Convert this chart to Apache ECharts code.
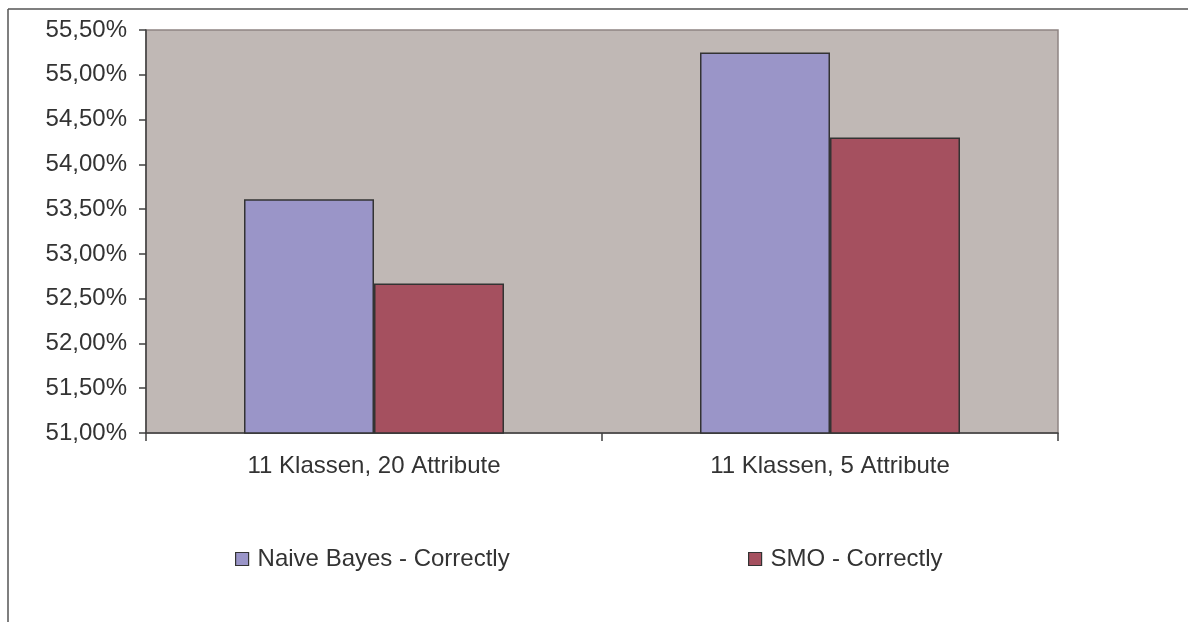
<!DOCTYPE html>
<html>
<head>
<meta charset="utf-8">
<script src="https://cdn.jsdelivr.net/npm/echarts@6/dist/echarts.min.js"></script>
<style>
  html, body { margin: 0; padding: 0; background: #ffffff; }
  #chart { width: 1188px; height: 622px; }
</style>
</head>
<body>
<div id="chart"></div>
<script>
// Classification accuracy (correctly classified instances, %)
const categories = ['11 Klassen, 20 Attribute', '11 Klassen, 5 Attribute'];
const naiveBayes = [53.61, 55.25];
const smo = [52.67, 54.30];
const seriesNames = ['Naive Bayes - Correctly', 'SMO - Correctly'];

const FONT = 'Liberation Sans, Arial, sans-serif';
const TEXT = '#333333';
const FS = 24;

const chart = echarts.init(document.getElementById('chart'));

chart.setOption({
  animation: false,
  backgroundColor: '#ffffff',
  textStyle: { fontFamily: FONT },
  graphic: [
    // outer frame: left and top edges
    { type: 'line', shape: { x1: 8, y1: 9, x2: 8, y2: 622 },
      style: { stroke: '#555555', lineWidth: 1.5 } },
    { type: 'line', shape: { x1: 8, y1: 9, x2: 1188, y2: 9 },
      style: { stroke: '#555555', lineWidth: 1.5 } }
  ],
  grid: {
    left: 146, top: 30, right: 130, bottom: 189,
    show: true,
    backgroundColor: '#c0b8b5',
    borderColor: '#8e8482',
    borderWidth: 1.5
  },
  legend: [
    {
      data: [seriesNames[0]],
      left: 235, top: 547,
      padding: 0,
      itemWidth: 13, itemHeight: 13,
      icon: 'rect',
      itemStyle: { borderColor: '#333333', borderWidth: 1.2 },
      textStyle: { fontSize: FS, color: TEXT, fontFamily: FONT, padding: [0, 0, 0, 4] }
    },
    {
      data: [seriesNames[1]],
      left: 748, top: 547,
      padding: 0,
      itemWidth: 13, itemHeight: 13,
      icon: 'rect',
      itemStyle: { borderColor: '#333333', borderWidth: 1.2 },
      textStyle: { fontSize: FS, color: TEXT, fontFamily: FONT, padding: [0, 0, 0, 4] }
    }
  ],
  xAxis: {
    type: 'category',
    data: categories,
    axisLine: { show: true, lineStyle: { color: '#404040', width: 1.5 } },
    axisTick: { show: true, length: 8, alignWithLabel: false, lineStyle: { color: '#404040', width: 1.5 } },
    axisLabel: { fontSize: FS, color: TEXT, margin: 21, fontFamily: FONT },
    splitLine: { show: false }
  },
  yAxis: {
    type: 'value',
    min: 51, max: 55.5, interval: 0.5,
    axisLine: { show: true, lineStyle: { color: '#404040', width: 1.5 } },
    axisTick: { show: true, length: 7, inside: false, lineStyle: { color: '#404040', width: 1.5 } },
    axisLabel: {
      fontSize: FS, color: TEXT, margin: 19, fontFamily: FONT,
      formatter: v => v.toFixed(2).replace('.', ',') + '%'
    },
    splitLine: { show: false }
  },
  series: [
    {
      name: seriesNames[0],
      type: 'bar',
      data: naiveBayes,
      barWidth: 130,
      barGap: '0%',
      itemStyle: { color: '#9a95c8', borderColor: '#333333', borderWidth: 1.5 }
    },
    {
      name: seriesNames[1],
      type: 'bar',
      data: smo,
      barWidth: 130,
      barGap: '0%',
      itemStyle: { color: '#a5505f', borderColor: '#333333', borderWidth: 1.5 }
    }
  ]
});
</script>
</body>
</html>
